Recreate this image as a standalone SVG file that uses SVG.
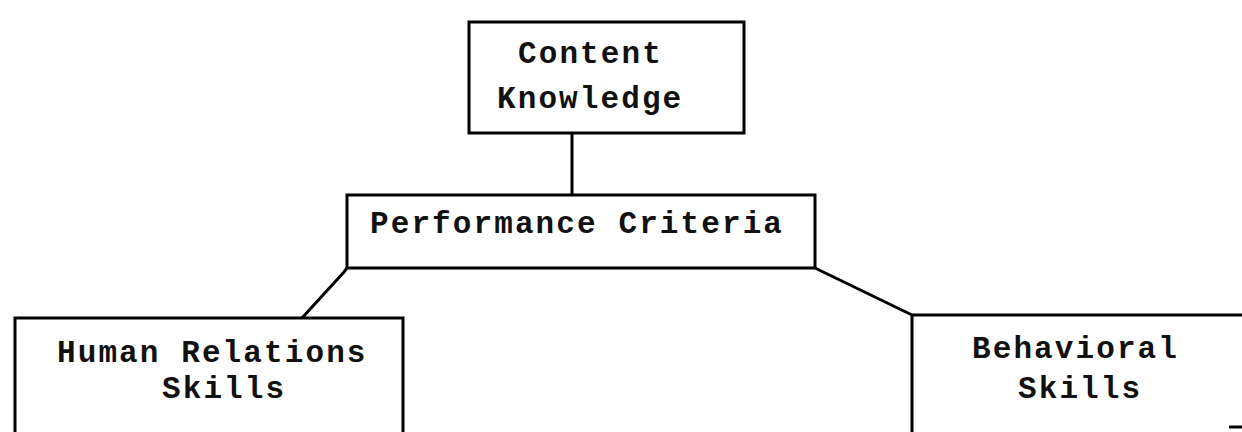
<svg xmlns="http://www.w3.org/2000/svg" width="1242" height="432" viewBox="0 0 1242 432">
  <style>
    .box { fill: none; stroke: #000; stroke-width: 3; stroke-linejoin: miter; }
    .link { fill: none; stroke: #000; stroke-width: 3; }
    .lbl { font-family: "Liberation Mono", "DejaVu Sans Mono", monospace; font-size: 31px; letter-spacing: 2.1px; font-weight: bold; fill: #111; }
  </style>
  <rect width="1242" height="432" fill="#fff"/>

  <g id="connectors">
    <line class="link" x1="572" y1="133" x2="572" y2="195"/>
    <polyline class="link" points="347,268 344,272 302,318"/>
    <line class="link" x1="815" y1="268" x2="912" y2="315"/>
  </g>

  <g id="content-knowledge">
    <rect class="box" x="469" y="22" width="275" height="111"/>
    <text class="lbl" x="518" y="63">Content</text>
    <text class="lbl" x="497" y="108">Knowledge</text>
  </g>

  <g id="performance-criteria">
    <rect class="box" x="347" y="195" width="468" height="73"/>
    <text class="lbl" x="370" y="233">Performance Criteria</text>
  </g>

  <g id="human-relations-skills">
    <path class="box" d="M15,432 V318 H403 V432"/>
    <text class="lbl" x="57" y="362">Human Relations</text>
    <text class="lbl" x="162" y="398">Skills</text>
  </g>

  <g id="behavioral-skills">
    <path class="box" d="M912,432 V315 H1242"/>
    <line class="box" x1="1229" y1="427" x2="1242" y2="427"/>
    <text class="lbl" x="972" y="358">Behavioral</text>
    <text class="lbl" x="1018" y="398">Skills</text>
  </g>
</svg>
